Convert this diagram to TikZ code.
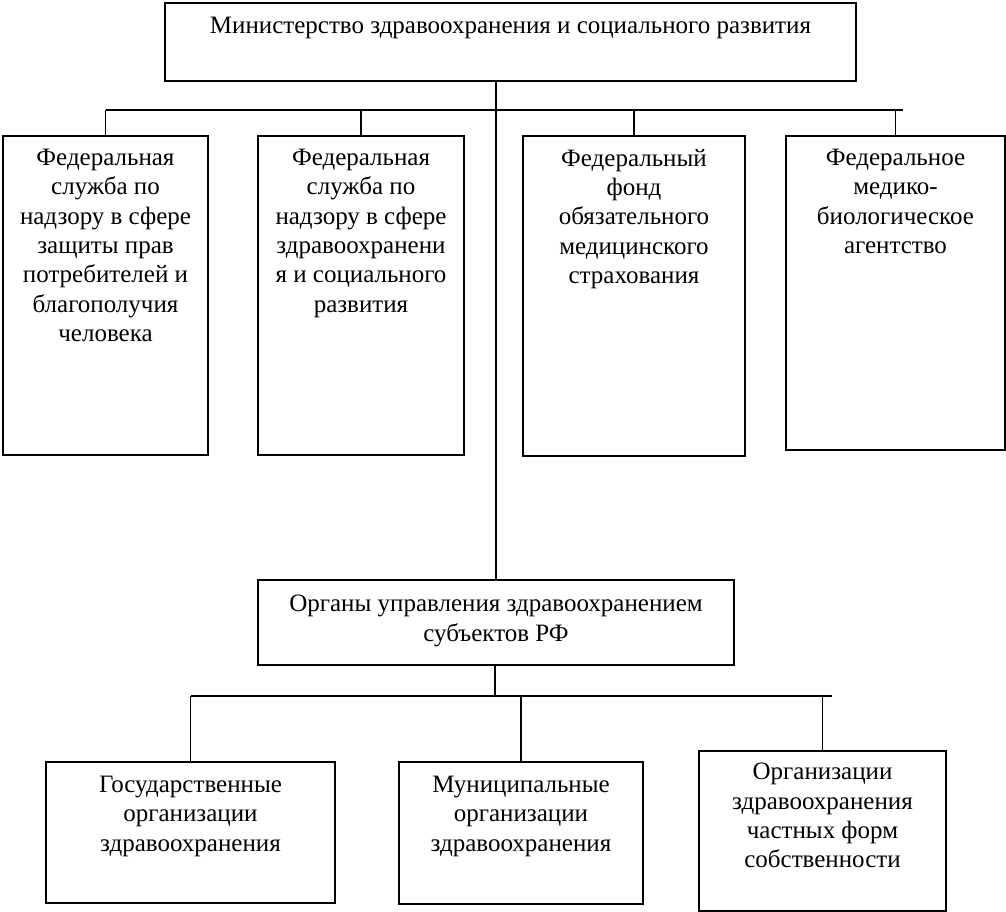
\documentclass[tikz,border=0pt]{standalone}
\usepackage{fontspec}
\setmainfont{Liberation Serif}
\begin{document}
\begin{tikzpicture}[x=1pt,y=-1pt,
  box/.style={draw,line width=2pt,inner sep=0pt,anchor=north west},
  lbl/.style={align=center,inner sep=0pt,anchor=north,font=\fontsize{25}{29.3}\selectfont},
  conn/.style={line width=1.6pt}]
\useasboundingbox (0,0) rectangle (1006,912);
% boxes
\node[box,minimum width=691pt,minimum height=78pt] (top) at (164,2) {};
\node[box,minimum width=205pt,minimum height=319pt] (f1) at (2,135) {};
\node[box,minimum width=206pt,minimum height=319pt] (f2) at (257,135) {};
\node[box,minimum width=222pt,minimum height=320pt] (f3) at (522,135) {};
\node[box,minimum width=219pt,minimum height=314pt] (f4) at (785,135) {};
\node[box,minimum width=476pt,minimum height=85pt] (org) at (257,579) {};
\node[box,minimum width=289pt,minimum height=141pt] (ga) at (45,761) {};
\node[box,minimum width=244pt,minimum height=142pt] (gb) at (398,761) {};
\node[box,minimum width=247pt,minimum height=160pt] (gc) at (698,750) {};
% labels
\node[lbl] (ttop) at ([yshift=-15pt]top.north) {Министерство здравоохранения и социального развития};
\node[lbl] (t1) at ([yshift=-14pt]f1.north) {Федеральная\\служба по\\надзору в сфере\\защиты прав\\потребителей и\\благополучия\\человека};
\node[lbl] (t2) at ([yshift=-14pt]f2.north) {Федеральная\\служба по\\надзору в сфере\\здравоохранени\\я и социального\\развития};
\node[lbl] (t3) at ([yshift=-14pt]f3.north) {Федеральный\\фонд\\обязательного\\медицинского\\страхования};
\node[lbl] (t4) at ([yshift=-14pt]f4.north) {Федеральное\\медико-\\биологическое\\агентство};
\node[lbl,align=center] (torg) at ([yshift=-16pt]org.north) {Органы управления здравоохранением\\субъектов РФ};
\node[lbl] (ta) at ([yshift=-15pt]ga.north) {Государственные\\организации\\здравоохранения};
\node[lbl] (tb) at ([yshift=-15pt]gb.north) {Муниципальные\\организации\\здравоохранения};
\node[lbl] (tc) at ([yshift=-13pt]gc.north) {Организации\\здравоохранения\\частных форм\\собственности};
% connectors upper level
\coordinate (j1) at (496,110);
\coordinate (e1) at (903,110);
\draw[conn] (top.south -| j1) -- (org.north -| j1);
\draw[conn] (f1.north |- j1) -- (e1);
\draw[conn] (f1.north |- j1) -- (f1.north);
\draw[conn] (f2.north |- j1) -- (f2.north);
\draw[conn] (f3.north |- j1) -- (f3.north);
\draw[conn] (f4.north |- j1) -- (f4.north);
% connectors lower level
\coordinate (j2) at (495,696);
\coordinate (e2) at (832,696);
\draw[conn] (org.south -| j2) -- (j2);
\draw[conn] (ga.north |- j2) -- (e2);
\draw[conn] (ga.north |- j2) -- (ga.north);
\draw[conn] (gb.north |- j2) -- (gb.north);
\draw[conn] (gc.north |- j2) -- (gc.north);
\end{tikzpicture}
\end{document}
